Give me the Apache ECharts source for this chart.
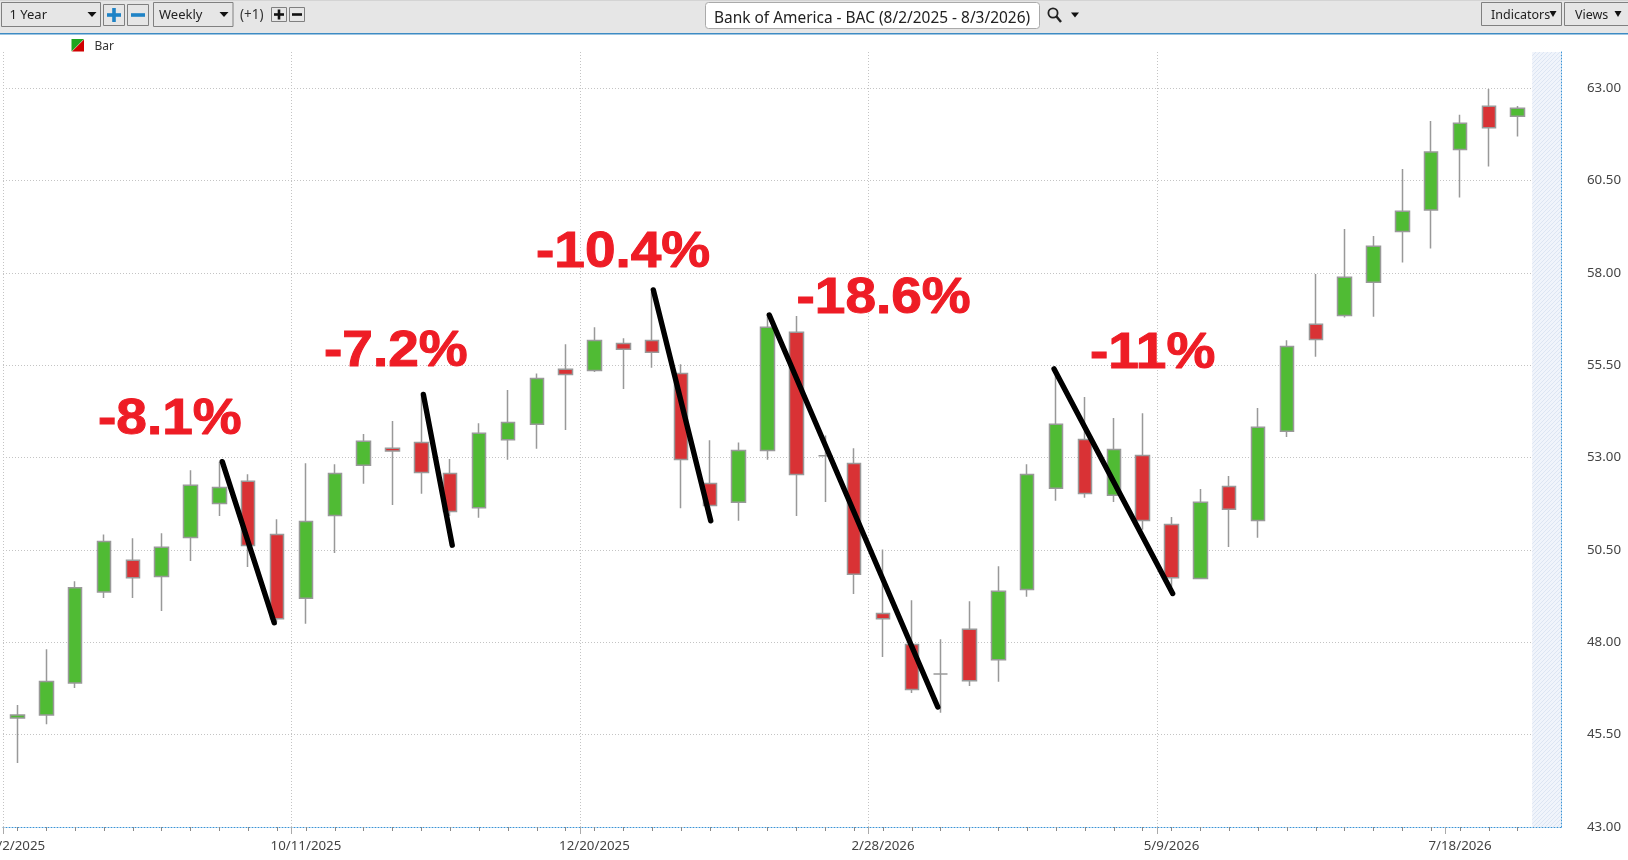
<!DOCTYPE html>
<html>
<head>
<meta charset="utf-8">
<title>Bank of America - BAC</title>
<style>html,body{margin:0;padding:0;background:#fff}#c{width:1628px;height:860px}</style>
<script src="https://cdn.jsdelivr.net/npm/echarts@6/dist/echarts.min.js"></script>
</head>
<body>
<div id="c"></div>
<script>
var weeks = ['8/2/2025','8/9/2025','8/16/2025','8/23/2025','8/30/2025','9/6/2025','9/13/2025','9/20/2025','9/27/2025','10/4/2025',
'10/11/2025','10/18/2025','10/25/2025','11/1/2025','11/8/2025','11/15/2025','11/22/2025','11/29/2025','12/6/2025','12/13/2025',
'12/20/2025','12/27/2025','1/3/2026','1/10/2026','1/17/2026','1/24/2026','1/31/2026','2/7/2026','2/14/2026','2/21/2026',
'2/28/2026','3/7/2026','3/14/2026','3/21/2026','3/28/2026','4/4/2026','4/11/2026','4/18/2026','4/25/2026','5/2/2026',
'5/9/2026','5/16/2026','5/23/2026','5/30/2026','6/6/2026','6/13/2026','6/20/2026','6/27/2026','7/4/2026','7/11/2026',
'7/18/2026','7/25/2026','8/1/2026','8/8/2026'];
// open, close, low, high
var ohlc = [
[45.95,46.03,44.73,46.30],[46.03,46.94,45.78,47.81],[46.90,49.48,46.76,49.65],[49.36,50.73,49.20,50.92],[50.22,49.75,49.20,50.82],
[49.78,50.57,48.85,50.95],[50.84,52.25,50.20,52.66],[51.76,52.19,51.42,52.89],[52.36,50.62,50.04,52.55],[50.92,48.64,48.54,51.33],
[49.19,51.27,48.50,52.85],[51.43,52.57,50.42,52.82],[52.79,53.44,52.29,53.64],[53.25,53.18,51.72,53.99],[53.41,52.60,52.02,54.69],
[52.57,51.54,51.42,52.96],[51.64,53.66,51.37,53.93],[53.48,53.95,52.94,54.83],[53.90,55.14,53.24,55.28],[55.39,55.25,53.75,56.07],
[55.36,56.17,55.32,56.53],[56.09,55.93,54.86,56.23],[56.17,55.85,55.43,57.49],[55.28,52.95,51.63,55.53],[52.30,51.70,51.36,53.47],
[51.79,53.19,51.29,53.41],[53.19,56.53,52.94,56.86],[56.39,52.54,51.42,56.83],[53.05,53.05,51.80,53.60],[52.84,49.84,49.31,53.25],
[48.78,48.64,47.60,50.51],[47.94,46.72,46.63,49.14],[47.14,47.14,46.09,48.08],[48.35,46.96,46.82,49.11],[47.53,49.38,46.93,50.06],
[49.43,52.54,49.23,52.82],[52.17,53.90,51.83,55.42],[53.49,52.03,51.91,54.64],[51.98,53.22,51.80,54.07],[53.06,51.30,51.05,54.20],
[51.19,49.75,49.50,51.39],[49.73,51.79,49.73,52.15],[52.22,51.60,50.58,52.50],[51.30,53.82,50.83,54.34],[53.71,56.01,53.56,56.18],
[56.61,56.20,55.73,57.97],[56.85,57.88,56.79,59.19],[57.75,58.72,56.81,59.00],[59.12,59.67,58.28,60.81],[59.70,61.27,58.66,62.11],
[61.34,62.05,60.04,62.28],[62.51,61.93,60.88,62.98],[62.24,62.46,61.69,62.52]
];
// Hand-drawn trend lines, in [week position, price]
var drop1 = [[7.60,52.89],[9.40,48.53]];
var drop2 = [[14.57,54.71],[15.57,50.63]];
var drop3 = [[22.54,57.54],[24.53,51.29]];
var drop4 = [[26.56,56.86],[32.40,46.25]];
var drop5 = [[36.43,55.40],[40.54,49.32]];
var priceMin = 43, priceMax = 63.98, priceStep = 2.5;
var hatchValues = weeks.map(function(w,i){ return i === 53 ? priceMax : null; });
var dropLabels = ['-8.1%','-7.2%','-10.4%','-18.6%','-11%'];
var chartTitle = 'Bank of America - BAC (8/2/2025 - 8/3/2026)';

var UI = '"Noto Sans","Open Sans",sans-serif';
var BAR = '#E6E6E6', EDGE = '#808080';

var tile = document.createElement('canvas'); tile.width = 4; tile.height = 4;
var g = tile.getContext('2d');
g.fillStyle = '#F0F4FB'; g.fillRect(0,0,4,4);
g.strokeStyle = '#DCE5F3'; g.lineWidth = 1;
g.beginPath(); g.moveTo(0,4); g.lineTo(4,0); g.moveTo(-1,1); g.lineTo(1,-1); g.moveTo(3,5); g.lineTo(5,3); g.stroke();

function box(x,y,w,h,fill,stroke,r){ return {type:'rect',silent:true,z:10,shape:{x:x,y:y,width:w,height:h,r:r||0},style:{fill:fill||BAR,stroke:stroke||EDGE,lineWidth:1}}; }
function txt(s,x,y,size,col){ return {type:'text',silent:true,z:11,x:x,y:y,style:{text:s,fill:col||'#222',font:(size||13)+'px '+UI,textAlign:'left',textVerticalAlign:'middle'}}; }
function tri(cx,cy,w,h,col){ return {type:'polygon',silent:true,z:11,shape:{points:[[cx-w/2,cy-h/2],[cx+w/2,cy-h/2],[cx,cy+h/2]]},style:{fill:col||'#111'}}; }
function solid(x,y,w,h,col,z){ return {type:'rect',silent:true,z:z||11,shape:{x:x,y:y,width:w,height:h},style:{fill:col}}; }
function plus(x,y,w,h,col,t,a){ var cx=x+w/2,cy=y+h/2; return [box(x,y,w,h,BAR,EDGE), solid(cx-a,cy-t/2,2*a,t,col), solid(cx-t/2,cy-a,t,2*a,col)]; }
function minus(x,y,w,h,col,t,a){ var cx=x+w/2,cy=y+h/2; return [box(x,y,w,h,BAR,EDGE), solid(cx-a,cy-t/2,2*a,t,col)]; }
function drop(s,x,y){ return {type:'text',silent:true,z:20,x:x,y:y,scaleX:1.1,style:{text:s,fill:'#EE1C25',stroke:'#EE1C25',lineWidth:1,font:'bold 50px "Liberation Sans",Arial,sans-serif',textAlign:'left',textVerticalAlign:'middle'}}; }

var graphics = [
  solid(0,0,1628,33,BAR,9), solid(0,0,1628,1,'#D4D4D4',9), solid(0,33,1628,1.4,'#3D8BC4',9),
  box(1.5,2.5,99,24), txt('1 Year',9.5,15.5,13), tri(92,14.5,9,5),
  box(153.5,2.5,79.5,24), txt('Weekly',159,15.5,13), tri(224,14.5,9,5),
  txt('(+1)',240,15,13.5,'#333'),
  box(705.5,2.5,334,26,'#fff','#aaa',3), txt(chartTitle,714,18.5,15.45),
  {type:'circle',silent:true,z:11,shape:{cx:1053,cy:13,r:4.6},style:{fill:'none',stroke:'#222',lineWidth:1.8}},
  {type:'line',silent:true,z:11,shape:{x1:1056.5,y1:16.5,x2:1061,y2:22},style:{stroke:'#222',lineWidth:2.4}},
  tri(1075,15,8,5),
  box(1481.5,2.5,80,23), txt('Indicators',1491,15,12.5,'#222'), tri(1553,14,7,6),
  box(1564.5,2.5,70,23), txt('Views',1575,15,12.5,'#222'), tri(1618,14,7,6),
  {type:'polygon',silent:true,z:11,shape:{points:[[71.5,39],[84,39],[71.5,51.5]]},style:{fill:'#1FA51F'}},
  {type:'polygon',silent:true,z:11,shape:{points:[[84,39.5],[84,51.5],[72,51.5]]},style:{fill:'#D00000'}},
  txt('Bar',94.5,46.5,12,'#333'),
  drop(dropLabels[0],98,420), drop(dropLabels[1],324,352.5), drop(dropLabels[2],536,253.5), drop(dropLabels[3],796.5,299.5), drop(dropLabels[4],1090,354)
].concat(plus(103.5,4.5,21,21,'#1F83C6',3.6,7)).concat(minus(127.5,4.5,21,21,'#1F83C6',3.6,7))
 .concat(plus(271.5,7.5,15,14,'#111',2.6,5)).concat(minus(289.5,7.5,15,14,'#111',2.6,5));

function trend(pts){ return {type:'line',xAxisIndex:1,yAxisIndex:0,data:pts,symbol:'none',silent:true,z:9,animation:false,
  lineStyle:{color:'#000',width:5.4,cap:'round'}}; }

var chart = echarts.init(document.getElementById('c'), null, {renderer:'canvas',width:1628,height:860});
chart.setOption({
  animation:false,
  backgroundColor:'#fff',
  grid:{left:3,right:67,top:52,bottom:33,containLabel:false,outerBoundsMode:'none'},
  xAxis:[{
    type:'category',data:weeks,boundaryGap:true,
    axisLine:{show:true,onZero:false,lineStyle:{color:'#3A93D6',type:[1,2],width:1}},
    axisTick:{show:true,alignWithLabel:true,length:4,interval:function(i){return i<53;},lineStyle:{color:'#888'}},
    axisLabel:{show:true,margin:13,interval:function(i){return i%10===0;},hideOverlap:false,color:'#444',fontFamily:UI,fontSize:13.3},
    splitLine:{show:false}
  },{
    type:'value',min:0,max:54,interval:10,position:'bottom',
    axisLine:{show:false},
    axisTick:{show:true,length:7,customValues:[0,10,20,30,40,50],lineStyle:{color:'#aaa'}},
    axisLabel:{show:false},
    splitLine:{show:true,showMinLine:true,showMaxLine:false,lineStyle:{color:'#C4C4C4',type:[1,2],width:1}}
  }],
  yAxis:[{
    type:'value',position:'right',min:priceMin,max:priceMax,interval:priceStep,
    axisLine:{show:true,onZero:false,lineStyle:{color:'#3A93D6',type:[1,2],width:1}},
    axisTick:{show:false},
    axisLabel:{show:true,showMaxLabel:false,margin:26,padding:[9,0,0,0],color:'#444',fontFamily:UI,fontSize:13.3,formatter:function(v){return v.toFixed(2);}},
    splitLine:{show:true,showMaxLine:false,lineStyle:{color:'#C4C4C4',type:[1,2],width:1}}
  }],
  series:[
    {type:'bar',name:'future',data:hatchValues,barWidth:'100%',silent:true,z:1,itemStyle:{color:{image:tile,repeat:'repeat'}}},
    {type:'candlestick',name:'Bar',data:ohlc,barWidth:14,z:5,silent:true,
      itemStyle:{color:'#50BB34',color0:'#D93235',borderColor:'#999999',borderColor0:'#999999',borderColorDoji:'#999999',borderWidth:1.5}},
    trend(drop1),trend(drop2),trend(drop3),trend(drop4),trend(drop5)
  ],
  graphic:{elements:graphics}
});
</script>
</body>
</html>
